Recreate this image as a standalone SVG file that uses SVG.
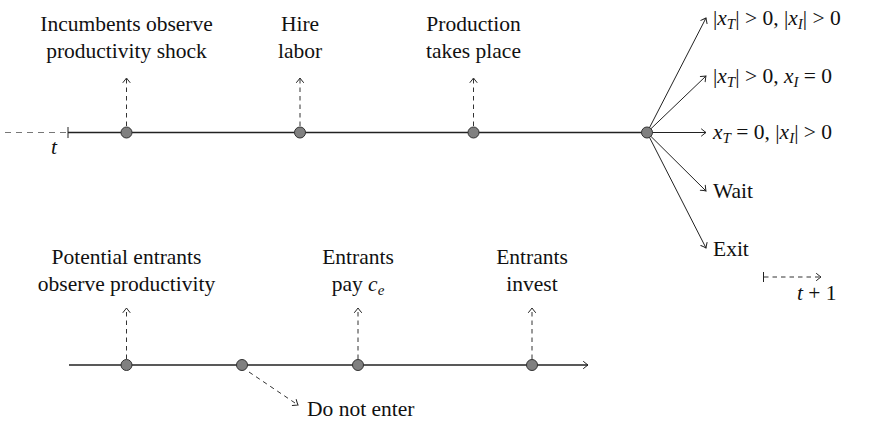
<svg xmlns="http://www.w3.org/2000/svg" width="883" height="436" viewBox="0 0 883 436" font-family="Liberation Serif, DejaVu Serif, Times New Roman, serif">
<style>
text{font-size:21.5px;fill:#111}
.lbl{text-anchor:middle}
.it{font-style:italic}
.sub{font-style:italic;font-size:15px}
.axis{stroke:#222;stroke-width:1.6;fill:none}
.fan{stroke:#222;stroke-width:1;fill:none}
.dash{stroke:#333;stroke-width:1;stroke-dasharray:4.5 4;fill:none}
.dot{fill:#808080;stroke:#333;stroke-width:1}
</style>
<defs>
<marker id="ah" viewBox="-6 -5 8 10" markerWidth="8" markerHeight="10" refX="0" refY="0" orient="auto" markerUnits="userSpaceOnUse">
<path d="M-4.5,-3.5 Q-1.5,-1 0,0 Q-1.5,1 -4.5,3.5" fill="none" stroke="#222" stroke-width="1" stroke-linecap="round"/>
</marker>
</defs>
<g id="connectors">
<line x1="5" y1="132.5" x2="67" y2="132.5" stroke="#777" stroke-width="1.2" stroke-dasharray="6 5"/>
<line x1="68" y1="127" x2="68" y2="138" stroke="#222" stroke-width="1"/>
<line class="axis" x1="68" y1="132.5" x2="647" y2="132.5"/>
<line class="dash" x1="126.5" y1="126" x2="126.5" y2="78" marker-end="url(#ah)"/>
<line class="dash" x1="300" y1="126" x2="300" y2="78" marker-end="url(#ah)"/>
<line class="dash" x1="473.5" y1="126" x2="473.5" y2="78" marker-end="url(#ah)"/>
<line class="fan" x1="647" y1="132.5" x2="706" y2="18" marker-end="url(#ah)"/>
<line class="fan" x1="647" y1="132.5" x2="706" y2="76" marker-end="url(#ah)"/>
<line class="fan" x1="647" y1="132.5" x2="706" y2="132.5" stroke-width="1.6" marker-end="url(#ah)"/>
<line class="fan" x1="647" y1="132.5" x2="706" y2="191" marker-end="url(#ah)"/>
<line class="fan" x1="647" y1="132.5" x2="706" y2="248" marker-end="url(#ah)"/>
<line x1="763.5" y1="272" x2="763.5" y2="282" stroke="#222" stroke-width="1"/>
<line class="dash" x1="764" y1="277" x2="821" y2="277" marker-end="url(#ah)"/>
<line class="axis" x1="69" y1="365" x2="588" y2="365" marker-end="url(#ah)"/>
<line class="dash" x1="126.5" y1="359" x2="126.5" y2="308" marker-end="url(#ah)"/>
<line class="dash" x1="358" y1="359" x2="358" y2="308" marker-end="url(#ah)"/>
<line class="dash" x1="532" y1="359" x2="532" y2="308" marker-end="url(#ah)"/>
<line class="dash" x1="249" y1="372" x2="298" y2="405" marker-end="url(#ah)"/>
</g>
<g id="n-t"><text class="it" x="51" y="154">t</text></g>
<g id="n-incumbents">
<circle class="dot" cx="126.5" cy="132.5" r="5.5"/>
<text class="lbl" x="126.5" y="31">Incumbents observe</text>
<text class="lbl" x="126.5" y="58">productivity shock</text>
</g>
<g id="n-hire">
<circle class="dot" cx="300" cy="132.5" r="5.5"/>
<text class="lbl" x="300" y="31">Hire</text>
<text class="lbl" x="300" y="58">labor</text>
</g>
<g id="n-production">
<circle class="dot" cx="473.5" cy="132.5" r="5.5"/>
<text class="lbl" x="473.5" y="31">Production</text>
<text class="lbl" x="473.5" y="58">takes place</text>
</g>
<g id="n-choice">
<circle class="dot" cx="647" cy="132.5" r="5.5"/>
</g>
<g id="n-o1"><text x="713" y="25">|<tspan class="it">x</tspan><tspan class="sub" dy="4">T</tspan><tspan dy="-4">| &gt; 0, |</tspan><tspan class="it">x</tspan><tspan class="sub" dy="4">I</tspan><tspan dy="-4">| &gt; 0</tspan></text></g>
<g id="n-o2"><text x="713" y="83">|<tspan class="it">x</tspan><tspan class="sub" dy="4">T</tspan><tspan dy="-4">| &gt; 0, </tspan><tspan class="it">x</tspan><tspan class="sub" dy="4">I</tspan><tspan dy="-4"> = 0</tspan></text></g>
<g id="n-o3"><text x="713" y="139"><tspan class="it">x</tspan><tspan class="sub" dy="4">T</tspan><tspan dy="-4"> = 0, |</tspan><tspan class="it">x</tspan><tspan class="sub" dy="4">I</tspan><tspan dy="-4">| &gt; 0</tspan></text></g>
<g id="n-wait"><text x="713" y="198">Wait</text></g>
<g id="n-exit"><text x="713" y="256">Exit</text></g>
<g id="n-t1"><text x="797" y="300"><tspan class="it">t</tspan> + 1</text></g>
<g id="n-potential">
<circle class="dot" cx="126.5" cy="365" r="5.5"/>
<text class="lbl" x="126.5" y="264">Potential entrants</text>
<text class="lbl" x="126.5" y="291">observe productivity</text>
</g>
<g id="n-decide">
<circle class="dot" cx="242" cy="365" r="5.5"/>
</g>
<g id="n-pay">
<circle class="dot" cx="358" cy="365" r="5.5"/>
<text class="lbl" x="358" y="264">Entrants</text>
<text class="lbl" x="358" y="291">pay <tspan class="it">c</tspan><tspan class="sub" dy="4">e</tspan></text>
</g>
<g id="n-invest">
<circle class="dot" cx="532" cy="365" r="5.5"/>
<text class="lbl" x="532" y="264">Entrants</text>
<text class="lbl" x="532" y="291">invest</text>
</g>
<g id="n-donot"><text x="307" y="416">Do not enter</text></g>
</svg>
